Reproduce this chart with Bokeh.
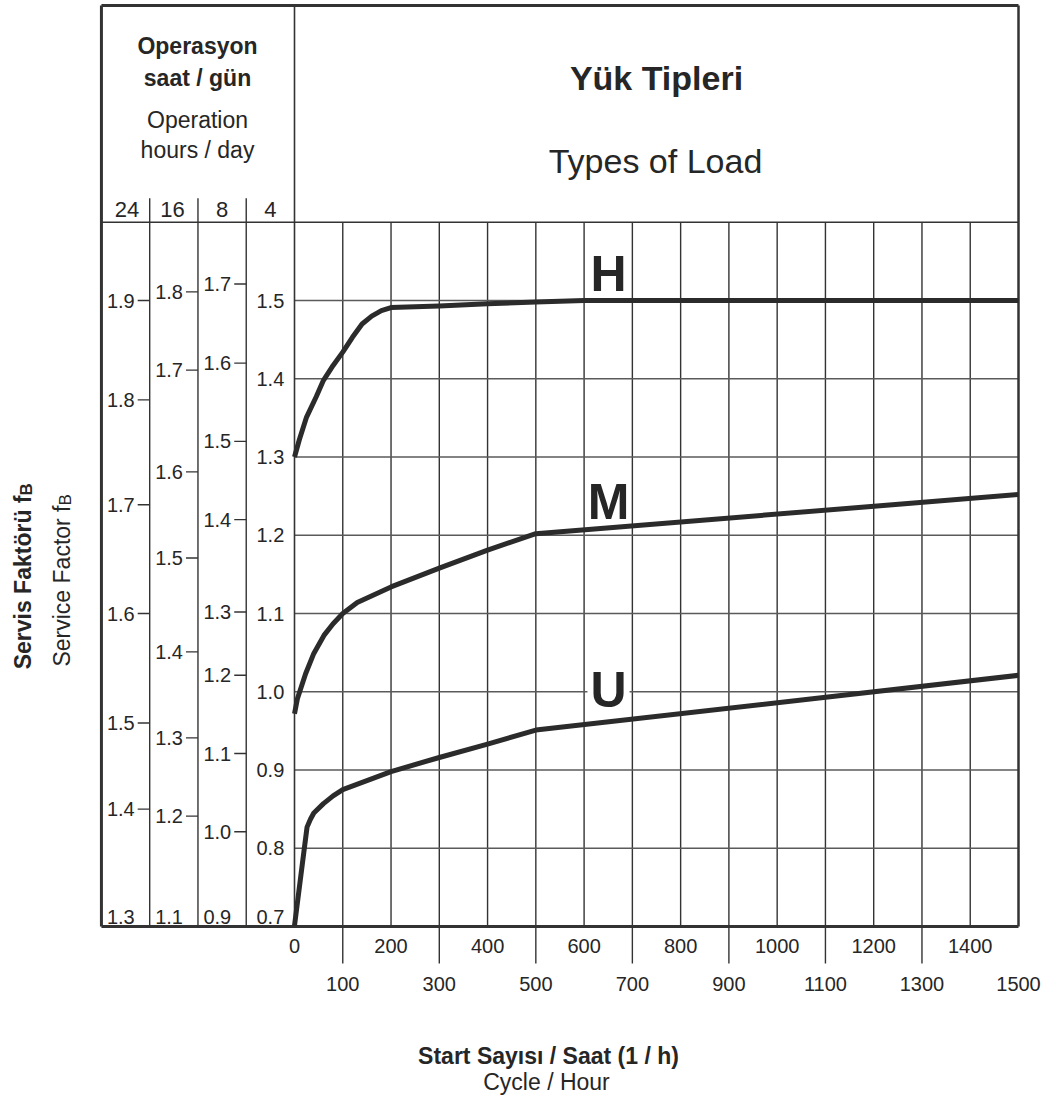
import numpy as np
from bokeh.plotting import figure
from bokeh.models import Range1d
from bokeh.core.properties import value
from bokeh.embed import file_html
from bokeh.resources import INLINE

# ---------------- data ----------------
load_types = ["H", "M", "U"]

cycles_H = [0, 10, 25, 45, 60, 80, 100, 120, 140, 160, 180, 200, 300, 400, 500, 600, 1500]
factor_H = [1.300, 1.322, 1.351, 1.377, 1.398, 1.417, 1.434, 1.453, 1.470, 1.480, 1.487, 1.491,
            1.493, 1.496, 1.498, 1.500, 1.500]

cycles_M = [0, 6, 23, 40, 61, 80, 100, 130, 200, 300, 400, 500, 1500]
factor_M = [0.972, 0.991, 1.023, 1.049, 1.072, 1.087, 1.100, 1.114, 1.134, 1.158, 1.181, 1.202, 1.252]

cycles_U = [0, 15, 26, 33, 40, 60, 80, 100, 200, 300, 400, 500, 1500]
factor_U = [0.701, 0.774, 0.827, 0.837, 0.845, 0.857, 0.867, 0.875, 0.898, 0.916, 0.933, 0.951, 1.021]

hours_per_day = ["24", "16", "8", "4"]

# service factor scale of 4 h/day (main scale)
main_ticks = [1.5, 1.4, 1.3, 1.2, 1.1, 1.0, 0.9, 0.8]
# other operating-hour scales: label value and equivalent position on the main scale
col24_labels = [1.9, 1.8, 1.7, 1.6, 1.5, 1.4]
col24_at = [1.500, 1.373, 1.239, 1.100, 0.960, 0.850]
col16_labels = [1.8, 1.7, 1.6, 1.5, 1.4, 1.3, 1.2]
col16_at = [1.511, 1.411, 1.281, 1.171, 1.051, 0.941, 0.841]
col8_labels = [1.7, 1.6, 1.5, 1.4, 1.3, 1.2, 1.1, 1.0]
col8_at = [1.521, 1.420, 1.320, 1.220, 1.102, 1.021, 0.921, 0.821]
bottom_labels = ["1.3", "1.1", "0.9", "0.7"]

cycle_ticks_upper = [0, 200, 400, 600, 800, 1000, 1200, 1400]
cycle_ticks_lower = [100, 300, 500, 700, 900, 1100, 1300, 1500]
cycle_grid = list(range(100, 1500, 100))

# ---------------- style / layout ----------------
FONT = "Liberation Sans"
INK = "#262626"
LINE = "#333333"
GRIDH = "#5a5a5a"
CURVE = "#2b2b2b"

W, H = 1046, 1099
sx = (1018 - 294) / 1500.0      # px per cycle
sy = (926 - 300) / 0.8          # px per unit factor
X_MIN, X_MAX = 0, 1500
V_MIN, V_MAX = 0.7, 1.6
V_TOP = 0.7 + (926 - 5) / sy
COLS = [-400, -300, -200, -100, 0]   # left scale columns (in cycle units)

p = figure(width=W, height=H,
           x_range=Range1d((0 - 294) / sx, (W - 294) / sx),
           y_range=Range1d(0.7 - (H - 926) / sy, 0.7 + 926 / sy),
           output_backend="svg", toolbar_location=None, min_border=0,
           x_axis_type=None, y_axis_type=None)
p.extra_x_ranges = {"px": Range1d(0, W)}
p.extra_y_ranges = {"px": Range1d(H, 0)}
p.outline_line_color = None
p.background_fill_color = "white"
p.border_fill_color = "white"

def txt(x, y, s, size, bold=False, align="center", baseline="alphabetic", px=False, **kw):
    extra = dict(x_range_name="px", y_range_name="px") if px else {}
    p.text(x=x if isinstance(x, list) else [x], y=y if isinstance(y, list) else [y],
           text=s if isinstance(s, list) else [s],
           text_font=value(FONT), text_font_size=f"{size}px",
           text_font_style="bold" if bold else "normal", text_color=INK,
           text_align=align, text_baseline=baseline, **extra, **kw)

# grid
p.segment(x0=cycle_grid, x1=cycle_grid, y0=[V_MIN] * len(cycle_grid), y1=[V_MAX] * len(cycle_grid),
          line_color=LINE, line_width=1.4)
p.segment(x0=[X_MIN] * len(main_ticks), x1=[X_MAX] * len(main_ticks), y0=main_ticks, y1=main_ticks,
          line_color=GRIDH, line_width=1.4)
# extended ticks below the plot
ext = cycle_ticks_lower[:-1]
p.segment(x0=ext, x1=ext, y0=[V_MIN] * len(ext), y1=[V_MIN - 37 / sy] * len(ext),
          line_color=LINE, line_width=1.4)

# column lines of the left scales
p.segment(x0=COLS[1:4], x1=COLS[1:4], y0=[V_MIN] * 3, y1=[V_MAX + 24 / sy] * 3,
          line_color=LINE, line_width=1.4)
# header separator and divider
p.segment(x0=[COLS[0]], x1=[X_MAX], y0=[V_MAX], y1=[V_MAX], line_color=LINE, line_width=1.6)
p.segment(x0=[0], x1=[0], y0=[V_MIN], y1=[V_TOP], line_color=LINE, line_width=1.6)
# frame
p.segment(x0=[COLS[0], COLS[0]], x1=[X_MAX, X_MAX], y0=[V_TOP, V_MIN], y1=[V_TOP, V_MIN],
          line_color=LINE, line_width=3)
p.segment(x0=[COLS[0]], x1=[COLS[0]], y0=[V_MIN], y1=[V_TOP], line_color=LINE, line_width=3)
p.segment(x0=[X_MAX], x1=[X_MAX], y0=[V_MIN], y1=[V_TOP], line_color=LINE, line_width=2.5)

# left scale ticks & labels
tick_len = 12 / sx
lab_gap = 15 / sx
DIG = 20
for right, labels, at in [(COLS[1], col24_labels, col24_at),
                          (COLS[2], col16_labels, col16_at),
                          (COLS[3], col8_labels, col8_at)]:
    n = len(at)
    p.segment(x0=[right - tick_len] * n, x1=[right] * n, y0=at, y1=at, line_color=LINE, line_width=1.4)
    txt([right - lab_gap] * n, at, [f"{v:.1f}" for v in labels], DIG, align="right", y_offset=0)
# main scale labels
txt([-50] * len(main_ticks), main_ticks, [f"{v:.1f}" for v in main_ticks], DIG, y_offset=0)
# bottom labels of each column
txt([COLS[1] - lab_gap, COLS[2] - lab_gap, COLS[3] - lab_gap], [V_MIN] * 3, bottom_labels[:3], DIG,
    align="right", y_offset=-10)
txt([-50], [V_MIN], [bottom_labels[3]], DIG, y_offset=-10)

# hours header
txt([-347, -253, -150, -50], [V_MAX] * 4, hours_per_day, 22, y_offset=-13)

# x tick labels
txt(cycle_ticks_upper, [V_MIN] * len(cycle_ticks_upper), [str(v) for v in cycle_ticks_upper], DIG, y_offset=19)
txt(cycle_ticks_lower, [V_MIN] * len(cycle_ticks_lower), [str(v) for v in cycle_ticks_lower], DIG, y_offset=57)

# load type labels (drawn before curves so the white box only hides grid)
txt(608, 273, load_types[0], 50, bold=True, px=True)
txt(608, 501, load_types[1], 50, bold=True, px=True)
txt(608, 689, load_types[2], 50, bold=True, px=True,
    background_fill_color="white", padding=3)

# curves
for cx, cy in [(cycles_H, factor_H), (cycles_M, factor_M), (cycles_U, factor_U)]:
    p.line(cx, cy, line_color=CURVE, line_width=5, line_join="round", line_cap="butt")

# header texts
txt(197, 45, "Operasyon", 23, bold=True, px=True)
txt(197, 77, "saat / gün", 23, bold=True, px=True)
txt(197, 119, "Operation", 23, px=True)
txt(197, 149, "hours / day", 23, px=True)
txt(656, 77, "Yük Tipleri", 34, bold=True, px=True)
txt(655, 160, "Types of Load", 34, px=True)

# axis titles
txt(548, 1055, "Start Sayısı / Saat (1 / h)", 23, bold=True, px=True)
txt(546, 1081, "Cycle / Hour", 23, px=True)

txt(22, 495, "Servis Faktörü f", 23, bold=True, align="right", px=True, angle=np.pi / 2)
txt(26, 495, "B", 17, bold=True, align="left", px=True, angle=np.pi / 2)
txt(61, 505, "Service Factor f", 23, align="right", px=True, angle=np.pi / 2)
txt(65, 505, "B", 17, align="left", px=True, angle=np.pi / 2)

open("out.html", "w").write(file_html(p, INLINE))
